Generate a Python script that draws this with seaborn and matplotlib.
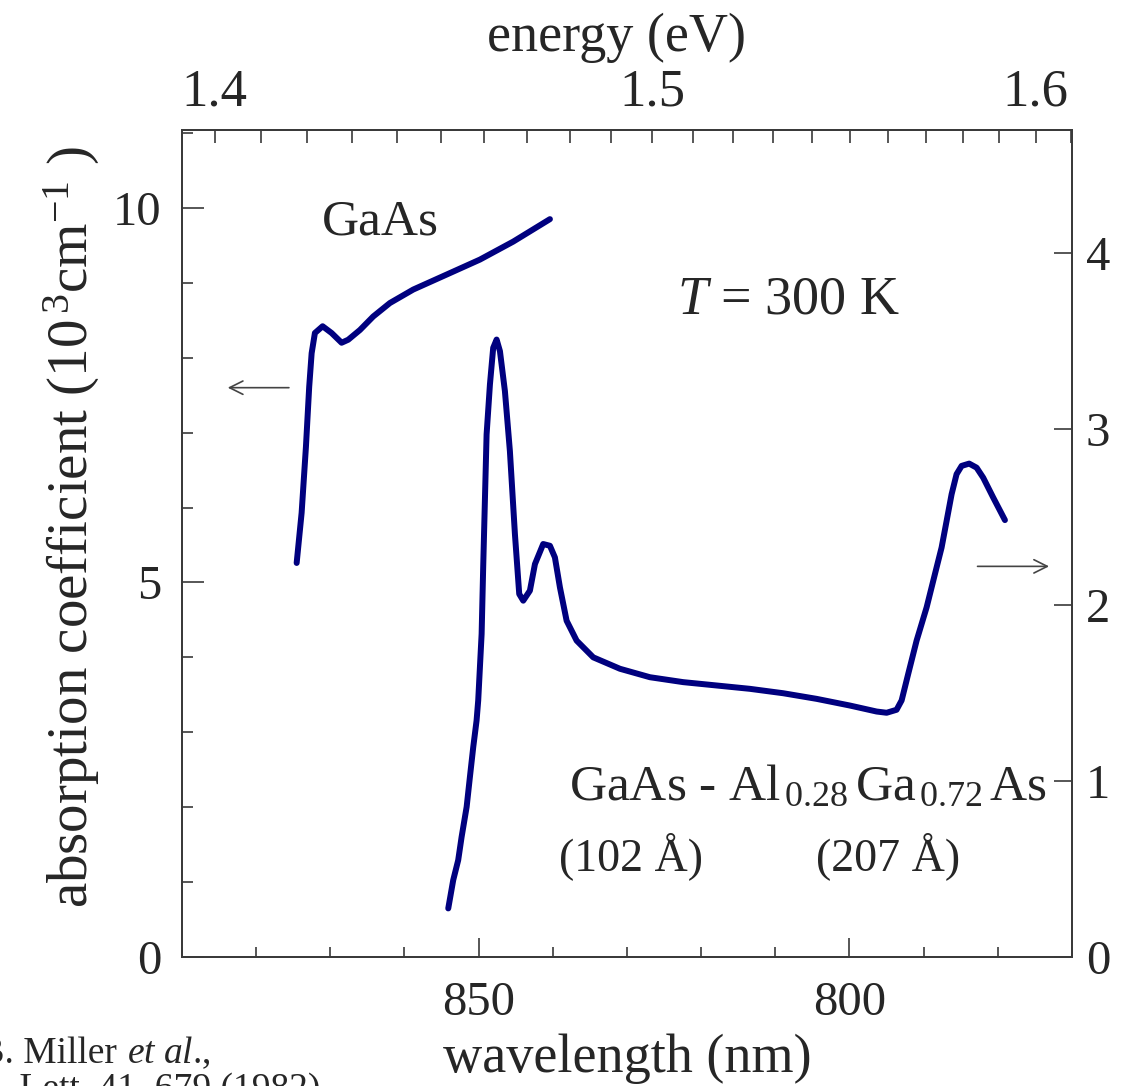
import numpy as np
import pandas as pd
import matplotlib
matplotlib.use("Agg")
import matplotlib.pyplot as plt
import seaborn as sns
from matplotlib.ticker import MultipleLocator, FixedLocator

# ---------------- data ----------------
gaas_wavelength = [874.53, 873.86, 873.28, 872.84, 872.51, 872.07, 871.03, 869.82,
                   868.47, 867.58, 866.00, 864.21, 861.96, 858.81, 854.31, 849.82,
                   845.33, 840.38]
gaas_alpha = [5.26, 5.93, 6.81, 7.61, 8.06, 8.33, 8.42, 8.33,
              8.20, 8.24, 8.37, 8.55, 8.73, 8.91, 9.11, 9.31,
              9.55, 9.85]

qw_wavelength = [854.09, 853.42, 852.75, 852.29, 851.61, 851.17, 850.72, 850.27,
                 850.05, 849.59, 849.38, 849.15, 848.92, 848.47, 848.03, 847.57,
                 847.12, 846.45, 845.78, 845.10, 844.52, 843.98, 843.08, 842.40,
                 841.29, 840.38, 839.71, 839.03, 838.13, 836.78, 834.54, 830.94,
                 826.90, 822.41, 817.91, 813.42, 808.93, 804.42, 799.93, 796.33,
                 794.98, 793.64, 792.96, 792.07, 790.94, 789.59, 788.47, 787.57,
                 786.89, 786.22, 785.55, 784.87, 783.85, 782.85, 781.96, 780.61,
                 779.03]
qw_alpha = [0.276, 0.437, 0.550, 0.682, 0.853, 1.023, 1.193, 1.344,
            1.458, 1.836, 2.214, 2.592, 2.970, 3.254, 3.462, 3.509,
            3.443, 3.216, 2.876, 2.403, 2.063, 2.025, 2.082, 2.233,
            2.347, 2.337, 2.271, 2.100, 1.911, 1.798, 1.703, 1.638,
            1.590, 1.562, 1.543, 1.524, 1.499, 1.467, 1.429, 1.395,
            1.388, 1.405, 1.458, 1.609, 1.798, 1.987, 2.176, 2.327,
            2.479, 2.630, 2.744, 2.791, 2.804, 2.781, 2.724, 2.611,
            2.483]

left_ticks = [0, 5, 10]
left_ticklabels = ["0", "5", "10"]
right_ticks = [0, 1, 2, 3, 4]
right_ticklabels = ["0", "1", "2", "3", "4"]
bottom_ticks = [850, 800]
bottom_ticklabels = ["850", "800"]
top_ticks = [1.4, 1.5, 1.6]
top_ticklabels = ["1.4", "1.5", "1.6"]

gaas_df = pd.DataFrame({"wavelength": gaas_wavelength, "alpha": gaas_alpha})
qw_df = pd.DataFrame({"wavelength": qw_wavelength, "alpha": qw_alpha})

# ---------------- style ----------------
sns.set_style("ticks")
plt.rcParams["font.family"] = ["Liberation Serif", "DejaVu Serif"]
plt.rcParams["mathtext.fontset"] = "custom"
plt.rcParams["mathtext.rm"] = "Liberation Serif"
plt.rcParams["mathtext.it"] = "Liberation Serif:italic"
plt.rcParams["axes.edgecolor"] = "#3a3a3a"
plt.rcParams["axes.linewidth"] = 1.3

LINE = "#00007f"
SPINE = "#3a3a3a"
TICKFS = 35
LABELFS = 39

fig = plt.figure(figsize=(11.23, 10.86), dpi=100)
ax = fig.add_axes([0.162, 0.1188, 0.7925, 0.7615])

sns.lineplot(data=gaas_df, x="wavelength", y="alpha", ax=ax, sort=False,
             estimator=None, color=LINE, linewidth=4.3)
ax.set_xlim(890, 770)
ax.set_ylim(0, 11.04)

ax.yaxis.set_major_locator(FixedLocator(left_ticks))
ax.set_yticklabels(left_ticklabels)
ax.yaxis.set_minor_locator(MultipleLocator(1))
ax.xaxis.set_major_locator(FixedLocator(bottom_ticks))
ax.set_xticklabels(bottom_ticklabels)
ax.xaxis.set_minor_locator(MultipleLocator(10))

ax.tick_params(axis="y", which="major", direction="in", length=16, width=1.2,
               color=SPINE, labelsize=TICKFS, pad=15, left=True, right=False)
ax.tick_params(axis="y", which="minor", direction="in", length=8, width=1.2,
               color=SPINE, left=True, right=False)
ax.tick_params(axis="x", which="major", direction="in", length=14, width=1.2,
               color=SPINE, labelsize=TICKFS, pad=17, top=False)
ax.tick_params(axis="x", which="minor", direction="in", length=7, width=1.2,
               color=SPINE, top=False)

ax.set_xlabel("wavelength (nm)", fontsize=LABELFS)
ax.xaxis.set_label_coords(0.5, -0.093)
ax.set_ylabel(r"absorption coefficient (10$^{\,3}$cm$^{-1}$ )", fontsize=41)
ax.yaxis.set_label_coords(-0.09, 0.52)

# top energy axis
to_energy = lambda w: 1239.84 / np.asarray(w, dtype=float)
sec = ax.secondary_xaxis("top", functions=(to_energy, to_energy))
sec.xaxis.set_major_locator(FixedLocator(top_ticks))
sec.set_xticklabels(top_ticklabels)
sec.xaxis.set_minor_locator(MultipleLocator(0.01))
sec.tick_params(axis="x", which="both", direction="in", length=9, width=1.2,
                color=SPINE, labelsize=38, pad=10)
sec.set_xlabel("energy (eV)", fontsize=LABELFS, labelpad=12, x=0.488,
               ha="center")

# right axis: quantum-well sample
ax2 = ax.twinx()
sns.lineplot(data=qw_df, x="wavelength", y="alpha", ax=ax2, sort=False,
             estimator=None, color=LINE, linewidth=4.3)
ax2.set_xlim(890, 770)
ax2.set_ylim(0, 4.70)
ax2.yaxis.set_major_locator(FixedLocator(right_ticks))
ax2.set_yticklabels(right_ticklabels)
ax2.tick_params(axis="y", which="major", direction="in", length=13, width=1.2,
                color=SPINE, labelsize=TICKFS, pad=10)
ax2.set_ylabel("")
ax2.set_xlabel("")
for a in (ax, ax2):
    for s in a.spines.values():
        s.set_color(SPINE)
        s.set_linewidth(1.3)

# annotations
arrow_kw = dict(arrowstyle="->", color="#444444", lw=1.2, mutation_scale=24)
ax.annotate("", xy=(884.2, 7.60), xytext=(875.2, 7.60), arrowprops=arrow_kw)
ax2.annotate("", xy=(772.7, 2.22), xytext=(783.1, 2.22), arrowprops=arrow_kw)

ax.text(0.2225, 0.889, "GaAs", transform=ax.transAxes, fontsize=37,
        ha="center", va="center")
ax.text(0.681, 0.794, r"$\mathit{T}$ = 300 K", transform=ax.transAxes,
        fontsize=39, ha="center", va="center")
ax.text(0.703, 0.19, r"GaAs - Al$_{\,0.28}\,$Ga$_{\,0.72}\,$As",
        transform=ax.transAxes, fontsize=37, ha="center", va="baseline")
ax.text(0.5045, 0.105, "(102 Å)", transform=ax.transAxes, fontsize=33,
        ha="center", va="baseline")
ax.text(0.793, 0.105, "(207 Å)", transform=ax.transAxes, fontsize=33,
        ha="center", va="baseline")

# citation (partly cut by the figure edge, as in the reference)
fig.text(117 / 1123, (1086 - 1063) / 1086, "D. A. B. Miller", fontsize=27,
         ha="right", va="baseline")
fig.text(127 / 1123, (1086 - 1063) / 1086, r"$\mathit{et\ al}$.,", fontsize=27,
         ha="left", va="baseline")
fig.text(320 / 1123, (1086 - 1099) / 1086, "Appl. Phys. Lett. 41, 679 (1982)",
         fontsize=27, ha="right", va="baseline")

fig.savefig("out.png", dpi=100)
